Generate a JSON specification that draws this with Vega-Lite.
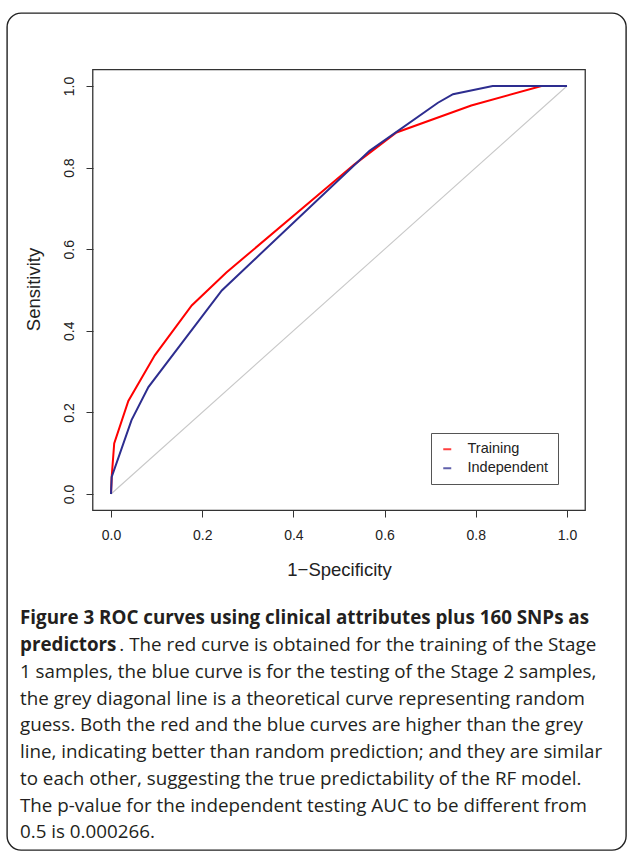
{
  "$schema": "https://vega.github.io/schema/vega-lite/v6.json",
  "width": 619,
  "height": 837,
  "autosize": "none",
  "padding": {"left": 7, "top": 13, "right": 1, "bottom": 1},
  "background": "white",
  "config": {
    "view": {"stroke": "#222222", "strokeWidth": 1.4, "cornerRadius": 14},
    "font": "Liberation Sans"
  },
  "datasets": {
    "roc": [
      {"series": "Training", "i": 0, "fpr": 0, "tpr": 0},
      {"series": "Training", "i": 1, "fpr": 0.0015, "tpr": 0.042},
      {"series": "Training", "i": 2, "fpr": 0.007, "tpr": 0.124},
      {"series": "Training", "i": 3, "fpr": 0.038, "tpr": 0.228},
      {"series": "Training", "i": 4, "fpr": 0.096, "tpr": 0.34},
      {"series": "Training", "i": 5, "fpr": 0.177, "tpr": 0.462},
      {"series": "Training", "i": 6, "fpr": 0.253, "tpr": 0.543},
      {"series": "Training", "i": 7, "fpr": 0.534, "tpr": 0.808},
      {"series": "Training", "i": 8, "fpr": 0.626, "tpr": 0.886},
      {"series": "Training", "i": 9, "fpr": 0.79, "tpr": 0.952},
      {"series": "Training", "i": 10, "fpr": 0.944, "tpr": 1.0},
      {"series": "Training", "i": 11, "fpr": 1.0, "tpr": 1.0},
      {"series": "Independent", "i": 0, "fpr": 0, "tpr": 0},
      {"series": "Independent", "i": 1, "fpr": 0.0015, "tpr": 0.042},
      {"series": "Independent", "i": 2, "fpr": 0.045, "tpr": 0.181},
      {"series": "Independent", "i": 3, "fpr": 0.082, "tpr": 0.262},
      {"series": "Independent", "i": 4, "fpr": 0.243, "tpr": 0.499},
      {"series": "Independent", "i": 5, "fpr": 0.567, "tpr": 0.841},
      {"series": "Independent", "i": 6, "fpr": 0.717, "tpr": 0.959},
      {"series": "Independent", "i": 7, "fpr": 0.75, "tpr": 0.98},
      {"series": "Independent", "i": 8, "fpr": 0.837, "tpr": 1.0},
      {"series": "Independent", "i": 9, "fpr": 1.0, "tpr": 1.0}
    ],
    "diag": [
      {"fpr": 0, "tpr": 0},
      {"fpr": 1, "tpr": 1}
    ],
    "caption": [
      {"line": 1, "kind": "bold", "t": "Figure 3 ROC curves using clinical attributes plus 160 SNPs as"},
      {"line": 2, "kind": "bold", "t": "predictors"},
      {"line": 2, "kind": "tail", "t": ". The red curve is obtained for the training of the Stage"},
      {"line": 3, "kind": "body", "t": "1 samples, the blue curve is for the testing of the Stage 2 samples,"},
      {"line": 4, "kind": "body", "t": "the grey diagonal line is a theoretical curve representing random"},
      {"line": 5, "kind": "body", "t": "guess. Both the red and the blue curves are higher than the grey"},
      {"line": 6, "kind": "body", "t": "line, indicating better than random prediction; and they are similar"},
      {"line": 7, "kind": "body", "t": "to each other, suggesting the true predictability of the RF model."},
      {"line": 8, "kind": "body", "t": "The p-value for the independent testing AUC to be different from"},
      {"line": 9, "kind": "body", "t": "0.5 is 0.000266."}
    ]
  },
  "layer": [
    {
      "layer": [
        {
          "data": {"values": [{"part": "box"}]},
          "mark": {"type": "rect", "fill": null, "stroke": "#333333", "strokeWidth": 1.3},
          "encoding": {
            "x": {"datum": -0.04, "type": "quantitative", "scale": {"domain": [-0.2281, 1.1294], "nice": false, "zero": false}},
            "x2": {"datum": 1.04},
            "y": {"datum": -0.04, "type": "quantitative", "scale": {"domain": [-0.8725, 1.1789], "nice": false, "zero": false}},
            "y2": {"datum": 1.04}
          }
        },
        {
          "data": {"name": "diag"},
          "mark": {"type": "line", "color": "#c8c8c8", "strokeWidth": 1.1},
          "encoding": {
            "x": {"field": "fpr", "type": "quantitative"},
            "y": {"field": "tpr", "type": "quantitative"}
          }
        },
        {
          "data": {"name": "roc"},
          "mark": {"type": "line", "strokeWidth": 2},
          "encoding": {
            "x": {
              "field": "fpr", "type": "quantitative",
              "scale": {"domain": [-0.2281, 1.1294], "nice": false, "zero": false},
              "axis": {
                "title": "1\u2212Specificity", "offset": -340, "domain": false, "grid": false,
                "values": [0, 0.2, 0.4, 0.6, 0.8, 1.0], "format": ".1f",
                "tickSize": 7, "tickColor": "#333333", "tickWidth": 1,
                "labelFont": "Liberation Sans", "labelFontSize": 14, "labelColor": "#222222",
                "labelPadding": 11, "labelFlush": false,
                "titleFont": "Liberation Sans", "titleFontSize": 18.5, "titleFontWeight": "normal",
                "titleColor": "#222222", "titleX": 332, "titleY": 65, "titleBaseline": "alphabetic", "titleAlign": "center"
              }
            },
            "y": {
              "field": "tpr", "type": "quantitative",
              "scale": {"domain": [-0.8725, 1.1789], "nice": false, "zero": false},
              "axis": {
                "title": "Sensitivity", "offset": -86, "domain": false, "grid": false,
                "values": [0, 0.2, 0.4, 0.6, 0.8, 1.0], "format": ".1f",
                "tickSize": 7, "tickColor": "#333333", "tickWidth": 1,
                "labelFont": "Liberation Sans", "labelFontSize": 14, "labelColor": "#222222",
                "labelAngle": 270, "labelAlign": "center", "labelBaseline": "alphabetic",
                "labelPadding": 13, "labelFlush": false,
                "titleFont": "Liberation Sans", "titleFontSize": 18.5, "titleFontWeight": "normal",
                "titleColor": "#222222", "titleAngle": 270, "titleX": -54, "titleY": 276,
                "titleBaseline": "alphabetic", "titleAlign": "center"
              }
            },
            "color": {
              "field": "series", "type": "nominal",
              "scale": {"domain": ["Training", "Independent"], "range": ["#ff0000", "#2d2d8f"]},
              "legend": {
                "title": null, "orient": "none", "legendX": 424, "legendY": 420,
                "symbolType": "stroke", "symbolSize": 64, "symbolStrokeWidth": 2, "symbolOpacity": 0.75,
                "labelFont": "Liberation Sans", "labelFontSize": 14.5, "labelColor": "#222222",
                "labelOffset": 13, "padding": 9, "rowPadding": 4,
                "strokeColor": "#555555", "fillColor": "white", "cornerRadius": 0
              }
            },
            "order": {"field": "i", "type": "quantitative"}
          }
        }
      ]
    },
    {
      "data": {"name": "caption"},
      "layer": [
        {
          "transform": [{"filter": "datum.kind === 'bold'"}],
          "mark": {"type": "text", "align": "left", "baseline": "alphabetic", "font": "Open Sans", "fontSize": 18.8, "fontWeight": "bold", "color": "#231f20"},
          "encoding": {
            "x": {"datum": 0, "type": "quantitative", "scale": {"domain": [-0.02185, 1.0185], "nice": false, "zero": false}, "axis": null},
            "y": {"field": "line", "type": "quantitative", "scale": {"domain": [-21.86, 9.43], "reverse": true, "nice": false, "zero": false}, "axis": null},
            "text": {"field": "t"}
          }
        },
        {
          "transform": [{"filter": "datum.kind === 'body'"}],
          "mark": {"type": "text", "align": "left", "baseline": "alphabetic", "font": "Open Sans", "fontSize": 18.8, "fontWeight": "normal", "color": "#231f20"},
          "encoding": {
            "x": {"datum": 0, "type": "quantitative", "scale": {"domain": [-0.02185, 1.0185], "nice": false, "zero": false}, "axis": null},
            "y": {"field": "line", "type": "quantitative", "scale": {"domain": [-21.86, 9.43], "reverse": true, "nice": false, "zero": false}, "axis": null},
            "text": {"field": "t"}
          }
        },
        {
          "transform": [{"filter": "datum.kind === 'tail'"}],
          "mark": {"type": "text", "align": "left", "baseline": "alphabetic", "font": "Open Sans", "fontSize": 18.8, "fontWeight": "normal", "color": "#231f20"},
          "encoding": {
            "x": {"datum": 0.167, "type": "quantitative", "scale": {"domain": [-0.02185, 1.0185], "nice": false, "zero": false}, "axis": null},
            "y": {"field": "line", "type": "quantitative", "scale": {"domain": [-21.86, 9.43], "reverse": true, "nice": false, "zero": false}, "axis": null},
            "text": {"field": "t"}
          }
        }
      ]
    }
  ],
  "resolve": {"scale": {"x": "independent", "y": "independent", "color": "independent"}}
}
